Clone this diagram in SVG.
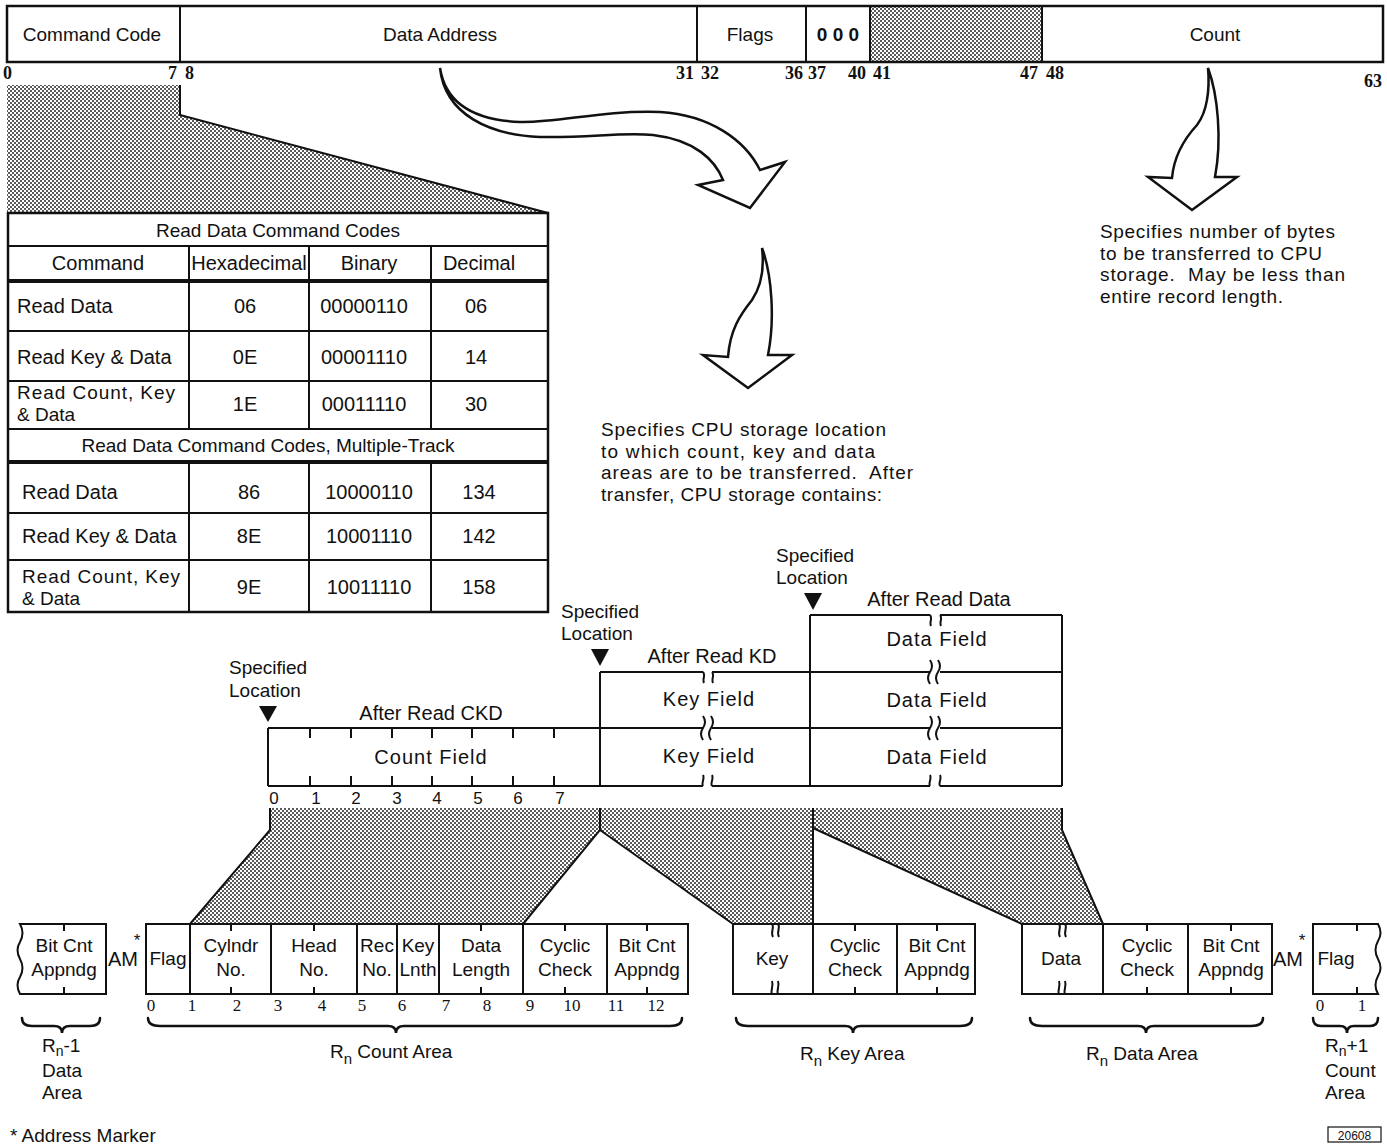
<svg xmlns="http://www.w3.org/2000/svg" width="1387" height="1145" viewBox="0 0 1387 1145">
<defs>
<pattern id="dots" width="4" height="4" patternUnits="userSpaceOnUse">
<rect width="4" height="4" fill="#fff"/>
<rect width="2" height="2" fill="#5a5a5a"/>
<rect x="2" y="2" width="2" height="2" fill="#5a5a5a"/>
</pattern>
<style>
text{font-family:"Liberation Sans",Arial,sans-serif;font-size:19px;fill:#111}
.m{text-anchor:middle}
.e{text-anchor:end}
.tb{font-size:20px}
.f20{font-size:20px}
.fld{font-size:20px;letter-spacing:1px}
.star{font-size:17px}
.tiny{font-size:12px}
.n{font-family:"Liberation Serif","Times New Roman",serif;font-size:18px;font-weight:bold}
.nb{font-family:"Liberation Serif","Times New Roman",serif;font-size:17px}
.ns{font-size:17px}
.ln{stroke:#111;fill:none;stroke-width:2}
.thk{stroke:#111;fill:none;stroke-width:4}
.box{fill:#fff;stroke:#111;stroke-width:2}
.sh{fill:url(#dots);stroke:none}
.ar{fill:#fff;stroke:#111;stroke-width:2.5;stroke-linejoin:miter}
.br{stroke:#111;fill:none;stroke-width:2.5;stroke-linecap:round}
.tri{fill:#111}
</style>
</defs>
<rect width="1387" height="1145" fill="#fff"/>

<!-- Top CCW bar -->
<g id="ccw">
<rect x="870" y="6" width="172" height="56" class="sh"/>
<rect x="7" y="6" width="1376" height="56" fill="none" stroke="#111" stroke-width="2.5"/>
<path class="ln" d="M180,6V62M697,6V62M806,6V62M870,6V62M1042,6V62"/>
<text x="92" y="41" class="m">Command Code</text>
<text x="440" y="41" class="m">Data Address</text>
<text x="750" y="41" class="m">Flags</text>
<text x="838" y="41" class="m" font-weight="bold">0 0 0</text>
<text x="1215" y="41" class="m">Count</text>
<text x="3" y="79" class="n">0</text>
<text x="177" y="79" class="n e">7</text>
<text x="185" y="79" class="n">8</text>
<text x="694" y="79" class="n e">31</text>
<text x="701" y="79" class="n">32</text>
<text x="803" y="79" class="n e">36</text>
<text x="808" y="79" class="n">37</text>
<text x="866" y="79" class="n e">40</text>
<text x="873" y="79" class="n">41</text>
<text x="1038" y="79" class="n e">47</text>
<text x="1046" y="79" class="n">48</text>
<text x="1382" y="87" class="n e">63</text>
</g>

<!-- shading from Command Code to table -->
<g id="cmd-shade">
<polygon class="sh" points="7,85 180,85 180,115 548,213 7,213"/>
<path class="ln" d="M180,85V115L548,213"/>
</g>

<!-- Table -->
<g id="cmd-table">
<rect x="8" y="213" width="540" height="399" fill="#fff" stroke="#111" stroke-width="2.5"/>
<path class="ln" d="M8,246H548M8,331H548M8,381H548M8,513H548M8,560H548"/>
<path class="thk" d="M8,281H548M8,462H548"/>
<path class="ln" stroke-width="2.5" d="M8,429H548"/>
<path class="ln" d="M189,246V429M309,246V429M431,246V429M189,462V612M309,462V612M431,462V612"/>
<text x="278" y="237" class="m">Read Data Command Codes</text>
<text x="98" y="270" class="m tb">Command</text>
<text x="249" y="270" class="m tb">Hexadecimal</text>
<text x="369" y="270" class="m tb">Binary</text>
<text x="479" y="270" class="m tb">Decimal</text>
<text x="17" y="313" class="tb">Read Data</text>
<text x="245" y="313" class="m tb">06</text>
<text x="364" y="313" class="m tb">00000110</text>
<text x="476" y="313" class="m tb">06</text>
<text x="17" y="364" class="tb">Read Key &amp; Data</text>
<text x="245" y="364" class="m tb">0E</text>
<text x="364" y="364" class="m tb">00001110</text>
<text x="476" y="364" class="m tb">14</text>
<text x="17" y="399" textLength="158" lengthAdjust="spacing">Read Count, Key</text>
<text x="17" y="421">&amp; Data</text>
<text x="245" y="411" class="m tb">1E</text>
<text x="364" y="411" class="m tb">00011110</text>
<text x="476" y="411" class="m tb">30</text>
<text x="268" y="452" class="m">Read Data Command Codes, Multiple-Track</text>
<text x="22" y="499" class="tb">Read Data</text>
<text x="249" y="499" class="m tb">86</text>
<text x="369" y="499" class="m tb">10000110</text>
<text x="479" y="499" class="m tb">134</text>
<text x="22" y="543" class="tb">Read Key &amp; Data</text>
<text x="249" y="543" class="m tb">8E</text>
<text x="369" y="543" class="m tb">10001110</text>
<text x="479" y="543" class="m tb">142</text>
<text x="22" y="583" textLength="158" lengthAdjust="spacing">Read Count, Key</text>
<text x="22" y="605">&amp; Data</text>
<text x="249" y="594" class="m tb">9E</text>
<text x="369" y="594" class="m tb">10011110</text>
<text x="479" y="594" class="m tb">158</text>
</g>

<!-- Connectors: arrows and shaded projections -->
<g id="connectors">
<path class="ar" d="M440,68 C445,100 470,120 520,122 C560,123 600,110 660,112 C710,115 745,140 760,170 L785,162 L750,208 L698,185 L723,180 C715,160 695,140 653,135 C620,132 590,138 540,137 C490,135 445,115 440,68 Z"/>
<path class="ar" d="M762,248 C772,275 775,320 768,355 L792,355 L748,388 L703,355 L728,357 C730,330 740,315 752,300 C762,285 764,265 762,248 Z"/>
<path class="ar" d="M1208,68 C1218,95 1222,140 1215,177 L1237,177 L1192,210 L1148,177 L1172,178 C1174,155 1185,138 1197,125 C1207,112 1210,90 1208,68 Z"/>
<polygon class="sh" points="270,808 600,808 600,830 523,924 190,924 270,830"/>
<polygon class="sh" points="600,808 813,808 813,924 733,924 600,830"/>
<polygon class="sh" points="813,808 1062,808 1062,830 1103,924 1022,924 813,828"/>
<path class="ln" d="M270,808V830L190,924M600,808V830L523,924M600,830L733,924M813,808V924M813,828L1022,924M1062,808V830L1103,924"/>
</g>

<!-- Descriptions -->
<g id="desc-count">
<text x="1100" y="238" textLength="235" lengthAdjust="spacing">Specifies number of bytes</text>
<text x="1100" y="260" textLength="222" lengthAdjust="spacing">to be transferred to CPU</text>
<text x="1100" y="281" textLength="245" lengthAdjust="spacing" xml:space="preserve">storage.  May be less than</text>
<text x="1100" y="303" textLength="183" lengthAdjust="spacing">entire record length.</text>
</g>
<g id="desc-address">
<text x="601" y="436" textLength="285" lengthAdjust="spacing">Specifies CPU storage location</text>
<text x="601" y="458" textLength="274" lengthAdjust="spacing">to which count, key and data</text>
<text x="601" y="479" textLength="312" lengthAdjust="spacing" xml:space="preserve">areas are to be transferred.  After</text>
<text x="601" y="501" textLength="281" lengthAdjust="spacing">transfer, CPU storage contains:</text>
</g>

<!-- Storage layouts -->
<g id="storage">
<text x="229" y="674">Specified</text>
<text x="229" y="697">Location</text>
<polygon class="tri" points="259,706 277,706 268,722"/>
<text x="561" y="618">Specified</text>
<text x="561" y="640">Location</text>
<polygon class="tri" points="591,649 609,649 600,666"/>
<text x="776" y="562">Specified</text>
<text x="776" y="584">Location</text>
<polygon class="tri" points="804,593 822,593 813,610"/>
<text x="431" y="720" class="m f20">After Read CKD</text>
<text x="712" y="663" class="m f20">After Read KD</text>
<text x="939" y="606" class="m f20">After Read Data</text>

<path class="ln" d="M268,728V786M600,672V786M810,615V786M1062,615V786"/>
<path class="ln" d="M810,615H930M940,615H1062"/>
<path class="ln" d="M600,672H703M712,672H930M940,672H1062"/>
<path class="ln" d="M268,728H703M712,728H930M940,728H1062"/>
<path class="ln" d="M268,786H703M712,786H930M940,786H1062"/>
<path class="ln" d="M310,728v10M351,728v10M392,728v10M432,728v10M472,728v10M513,728v10M554,728v10M310,786v-10M351,786v-10M392,786v-10M432,786v-10M472,786v-10M513,786v-10M554,786v-10"/>
<path class="ln" stroke-width="1.8" d="M703,672c3,3 -1,7 1,11M712,672c3,3 -1,7 1,11M703,716q4,6 0,12q-4,6 0,12M711,716q4,6 0,12q-4,6 0,12M703,786c-2,-3 2,-7 0,-11M712,786c-2,-3 2,-7 0,-11"/>
<path class="ln" stroke-width="1.8" d="M930,615c3,3 -1,7 1,11M940,615c3,3 -1,7 1,11M930,660q4,6 0,12q-4,6 0,12M938,660q4,6 0,12q-4,6 0,12M930,716q4,6 0,12q-4,6 0,12M938,716q4,6 0,12q-4,6 0,12M930,786c-2,-3 2,-7 0,-11M940,786c-2,-3 2,-7 0,-11"/>
<text x="431" y="764" class="m fld">Count Field</text>
<text x="709" y="706" class="m fld">Key Field</text>
<text x="709" y="763" class="m fld">Key Field</text>
<text x="937" y="646" class="m fld">Data Field</text>
<text x="937" y="707" class="m fld">Data Field</text>
<text x="937" y="764" class="m fld">Data Field</text>
<text x="274" y="804" class="m ns">0</text>
<text x="316" y="804" class="m ns">1</text>
<text x="356" y="804" class="m ns">2</text>
<text x="397" y="804" class="m ns">3</text>
<text x="437" y="804" class="m ns">4</text>
<text x="478" y="804" class="m ns">5</text>
<text x="518" y="804" class="m ns">6</text>
<text x="560" y="804" class="m ns">7</text>
</g>

<!-- Record on track -->
<g id="rn-1-data">
<path class="box" d="M20,924H106V994H20q-5,-9 0,-17q5,-9 0,-18q-5,-9 0,-17q5,-9 0,-18Z"/>
<path class="ln" d="M64,924v7M64,994v-7"/>
<text x="64" y="952" class="m">Bit Cnt</text>
<text x="64" y="976" class="m">Appndg</text>
</g>
<g id="am1">
<text x="108" y="966" class="f20">AM</text>
<text x="137" y="946" class="m star">*</text>
</g>
<g id="rn-count">
<rect x="146" y="924" width="542" height="70" class="box"/>
<path class="ln" d="M190,924V994M271,924V994M357,924V994M397,924V994M439,924V994M523,924V994M607,924V994"/>
<path class="ln" d="M231,924v7M314,924v7M481,924v7M565,924v7M647,924v7M231,994v-7M314,994v-7M481,994v-7M565,994v-7M647,994v-7"/>
<text x="168" y="965" class="m">Flag</text>
<text x="231" y="952" class="m">Cylndr</text>
<text x="231" y="976" class="m">No.</text>
<text x="314" y="952" class="m">Head</text>
<text x="314" y="976" class="m">No.</text>
<text x="377" y="952" class="m">Rec</text>
<text x="377" y="976" class="m">No.</text>
<text x="418" y="952" class="m">Key</text>
<text x="418" y="976" class="m">Lnth</text>
<text x="481" y="952" class="m">Data</text>
<text x="481" y="976" class="m">Length</text>
<text x="565" y="952" class="m">Cyclic</text>
<text x="565" y="976" class="m">Check</text>
<text x="647" y="952" class="m">Bit Cnt</text>
<text x="647" y="976" class="m">Appndg</text>
<text x="151" y="1011" class="m nb">0</text>
<text x="192" y="1011" class="m nb">1</text>
<text x="237" y="1011" class="m nb">2</text>
<text x="278" y="1011" class="m nb">3</text>
<text x="322" y="1011" class="m nb">4</text>
<text x="362" y="1011" class="m nb">5</text>
<text x="402" y="1011" class="m nb">6</text>
<text x="446" y="1011" class="m nb">7</text>
<text x="487" y="1011" class="m nb">8</text>
<text x="530" y="1011" class="m nb">9</text>
<text x="572" y="1011" class="m nb">10</text>
<text x="616" y="1011" class="m nb">11</text>
<text x="656" y="1011" class="m nb">12</text>
</g>
<g id="rn-key">
<path class="box" d="M733,924H975V994H733Z"/>
<path class="ln" stroke="#fff" stroke-width="4" d="M774,924H776M774,994H776"/>
<path class="ln" d="M813,924V994M897,924V994M855,924v7M937,924v7M855,994v-7M937,994v-7"/>
<path class="ln" stroke-width="1.8" d="M772,924c3,3 -2,8 1,13M778,924c3,3 -2,8 1,13M772,994c-2,-3 2,-8 0,-13M778,994c-2,-3 2,-8 0,-13"/>
<text x="772" y="965" class="m">Key</text>
<text x="855" y="952" class="m">Cyclic</text>
<text x="855" y="976" class="m">Check</text>
<text x="937" y="952" class="m">Bit Cnt</text>
<text x="937" y="976" class="m">Appndg</text>
</g>
<g id="rn-data">
<path class="box" d="M1022,924H1272V994H1022Z"/>
<path class="ln" stroke="#fff" stroke-width="4" d="M1061,924H1063M1061,994H1063"/>
<path class="ln" d="M1103,924V994M1188,924V994M1147,924v7M1231,924v7M1147,994v-7M1231,994v-7"/>
<path class="ln" stroke-width="1.8" d="M1059,924c3,3 -2,8 1,13M1065,924c3,3 -2,8 1,13M1059,994c-2,-3 2,-8 0,-13M1065,994c-2,-3 2,-8 0,-13"/>
<text x="1061" y="965" class="m">Data</text>
<text x="1147" y="952" class="m">Cyclic</text>
<text x="1147" y="976" class="m">Check</text>
<text x="1231" y="952" class="m">Bit Cnt</text>
<text x="1231" y="976" class="m">Appndg</text>
</g>
<g id="am2">
<text x="1273" y="966" class="f20">AM</text>
<text x="1302" y="946" class="m star">*</text>
</g>
<g id="rn1-count">
<path class="box" d="M1313,924H1378q5,9 0,17q-5,9 0,18q5,9 0,17q-5,9 0,18H1313Z"/>
<path class="ln" d="M1357,924v7M1357,994v-7"/>
<text x="1336" y="965" class="m">Flag</text>
<text x="1320" y="1011" class="m nb">0</text>
<text x="1362" y="1011" class="m nb">1</text>
</g>

<!-- Braces and area labels -->
<g id="braces">
<path class="br" d="M22,1018q0,8 10,8H54q8,0 8,7q0,-7 8,-7H90q10,0 10,-8"/>
<path class="br" d="M148,1018q0,8 12,8H388q8,0 8,7q0,-7 8,-7H670q12,0 12,-8"/>
<path class="br" d="M736,1018q0,8 12,8H845q8,0 8,7q0,-7 8,-7H960q12,0 12,-8"/>
<path class="br" d="M1030,1018q0,8 12,8H1138q8,0 8,7q0,-7 8,-7H1251q12,0 12,-8"/>
<path class="br" d="M1313,1018q0,8 8,8H1340q7,0 7,7q0,-7 7,-7H1370q8,0 8,-8"/>
<text x="42" y="1052">R<tspan font-size="14" dy="4">n</tspan><tspan dy="-4">-1</tspan></text>
<text x="62" y="1077" class="m">Data</text>
<text x="62" y="1099" class="m">Area</text>
<text x="330" y="1058">R<tspan font-size="15" dy="6">n</tspan><tspan dy="-6"> Count Area</tspan></text>
<text x="800" y="1060">R<tspan font-size="15" dy="6">n</tspan><tspan dy="-6"> Key Area</tspan></text>
<text x="1086" y="1060">R<tspan font-size="15" dy="6">n</tspan><tspan dy="-6"> Data Area</tspan></text>
<text x="1325" y="1052">R<tspan font-size="14" dy="4">n</tspan><tspan dy="-4">+1</tspan></text>
<text x="1325" y="1077">Count</text>
<text x="1325" y="1099">Area</text>
</g>

<g id="footnote">
<text x="10" y="1142">* Address Marker</text>
<rect x="1328" y="1127" width="53" height="15" fill="#fff" stroke="#111" stroke-width="1.2"/>
<text x="1354.5" y="1139.5" class="m tiny">20608</text>
</g>
</svg>
